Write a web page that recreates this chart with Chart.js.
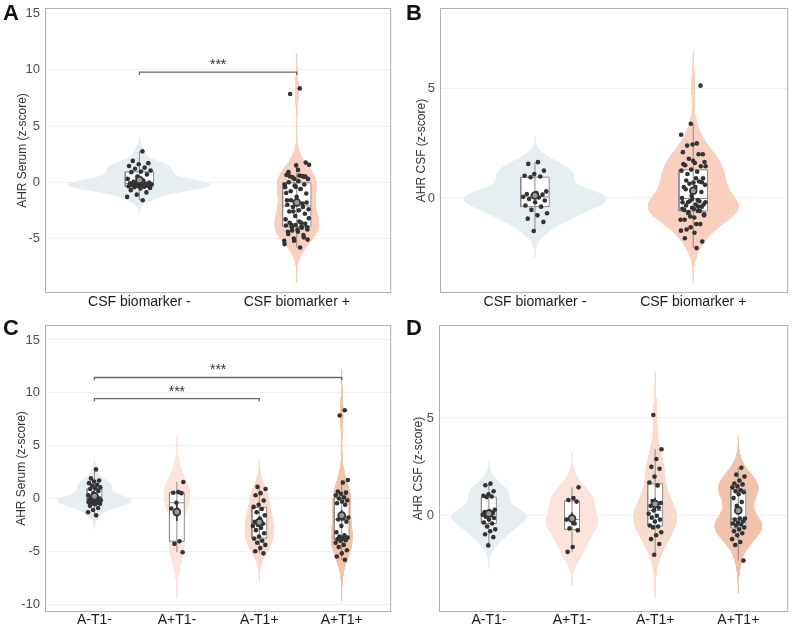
<!DOCTYPE html>
<html>
<head>
<meta charset="utf-8">
<script src="https://cdn.jsdelivr.net/npm/chart.js@4.4.1/dist/chart.umd.min.js"></script>
<style>
  html, body { margin: 0; padding: 0; background: #fff; }
  #wrap { position: relative; width: 794px; height: 627px; }
  canvas { position: absolute; }
</style>
</head>
<body>
<div id="wrap">
  <canvas id="panelA" width="397" height="313" style="left:0;top:0"></canvas>
  <canvas id="panelB" width="397" height="313" style="left:397px;top:0"></canvas>
  <canvas id="panelC" width="397" height="314" style="left:0;top:313px"></canvas>
  <canvas id="panelD" width="397" height="314" style="left:397px;top:313px"></canvas>
</div>
<script>
// categorias
var catsBiomarker = ['CSF biomarker -', 'CSF biomarker +'];
var catsAT = ['A-T1-', 'A+T1-', 'A-T1+', 'A+T1+'];

// AHR suero (z-score) por grupo AT
var serumAmT1m = [2.75, 1.9, 1.7, 1.6, 1.45, 1.3, 1.2, 1.05, 0.95, 0.9, 0.7, 0.5, 0.3, 0.15, 0.05, -0.02, -0.06, -0.1,
    -0.12, -0.15, -0.18, -0.2, -0.25, -0.3, -0.33, -0.36, -0.4, -0.45, -0.5, -0.55, -0.7, -0.9, -1.1, -1.3, -1.6];
var serumApT1m = [1.55, 0.6, 0.54, 0.5, -0.41, -0.95, -4.05, -4.3, -5.1];
var serumAmT1p = [1.1, 0.9, 0.5, 0.3, -0.2, -0.6, -0.8, -1.0, -1.3, -1.6, -1.9, -2.2, -2.4, -2.5, -2.6, -2.8, -3.0,
    -3.3, -3.6, -3.8, -4.0, -4.2, -4.4, -4.7, -5.0, -5.2];
var serumApT1p = [8.35, 7.85, 1.75, 1.5, 0.65, 0.55, 0.45, 0.3, 0.1, 0.0, -0.2, -0.3, -0.45, -0.6, -1.6, -1.8, -1.9,
    -2.0, -2.2, -2.6, -3.2, -3.5, -3.6, -3.7, -3.8, -3.85, -3.95, -4.0, -4.2, -4.4, -4.6, -4.9, -5.2, -5.5, -5.8];

// AHR LCR (z-score) por grupo AT
var csfAmT1m = [1.64, 1.56, 1.25, 1.1, 1.02, 0.98, 0.95, 0.3, 0.22, 0.18, 0.15, 0.12, 0.05, 0.02, -0.05, -0.12,
    -0.2, -0.35, -0.4, -0.55, -0.7, -0.8, -0.95, -1.1, -1.52];
var csfApT1m = [1.45, 0.9, 0.8, 0.72, -0.05, -0.2, -0.4, -0.65, -0.75, -1.6, -1.85];
var csfAmT1p = [5.15, 3.4, 2.9, 2.5, 2.4, 2.0, 1.7, 1.55, 0.75, 0.65, 0.6, 0.5, 0.4, 0.27, 0.1, 0.0, -0.1, -0.2,
    -0.3, -0.5, -0.55, -0.6, -0.85, -1.0, -1.2, -1.45, -2.0];
var csfApT1p = [2.45, 2.1, 2.0, 1.8, 1.65, 1.6, 1.5, 1.45, 1.3, 1.25, 1.2, 1.1, 0.9, 0.7, 0.5, -0.15, -0.15, -0.2,
    -0.3, -0.35, -0.4, -0.45, -0.5, -0.6, -0.7, -0.8, -0.9, -1.0, -1.2, -1.35, -1.5, -2.3];

// ticks del eje y
var yTicksSerumA = [-5, 0, 5, 10, 15];
var yTicksSerumC = [-10, -5, 0, 5, 10, 15];
var yTicksCsf = [0, 5];

// comparaciones significativas
var sigSerumA = [{ from: 1, to: 2, y: 9.8, label: '***' }];
var sigSerumC = [{ from: 1, to: 3, y: 9.45, label: '***' }, { from: 1, to: 4, y: 11.45, label: '***' }];

var coloresBiomarker = ['#E6EEF2', '#F9D0BF'];
var coloresAT = ['#E6EEF2', '#FAE4DB', '#F8DBCE', '#F2C3AA'];

var FONT = "'Liberation Sans', Arial, Helvetica, sans-serif";
var BOX_HALF = 0.09;
var VIOLIN_HALF = 0.45;
var JITTER = 0.08;

function sortAsc(v) { return v.slice().sort(function (a, b) { return a - b; }); }

// cuantil tipo 7 (como R)
function q7(s, p) {
    var h = (s.length - 1) * p, i = Math.floor(h);
    return i + 1 < s.length ? s[i] + (h - i) * (s[i + 1] - s[i]) : s[i];
}

function mean(v) { return v.reduce(function (a, b) { return a + b; }, 0) / v.length; }
function sd(v) {
    var m = mean(v);
    return Math.sqrt(v.reduce(function (a, b) { return a + (b - m) * (b - m); }, 0) / (v.length - 1));
}

function boxStats(v) {
    var s = sortAsc(v);
    var q1 = q7(s, 0.25), med = q7(s, 0.5), q3 = q7(s, 0.75), r = 1.5 * (q3 - q1);
    var lo = s.find(function (x) { return x >= q1 - r; });
    var hi = s.slice().reverse().find(function (x) { return x <= q3 + r; });
    var m = mean(v), se = sd(v) / Math.sqrt(v.length);
    return { q1: q1, med: med, q3: q3, lo: lo, hi: hi, mean: m, se: se };
}

// densidad kernel gaussiano, ancho de banda nrd0
function density(v) {
    var s = sortAsc(v), n = v.length;
    var bw = 0.9 * Math.min(sd(v), (q7(s, 0.75) - q7(s, 0.25)) / 1.34) * Math.pow(n, -0.2);
    var lo = s[0] - 3 * bw, hi = s[n - 1] + 3 * bw, out = [];
    for (var i = 0; i <= 200; i++) {
        var y = lo + (hi - lo) * i / 200, d = 0;
        v.forEach(function (x) { var z = (y - x) / bw; d += Math.exp(-0.5 * z * z); });
        out.push({ y: y, d: d / (n * bw * Math.sqrt(2 * Math.PI)) });
    }
    return out;
}

function segmento(data, color, width, order) {
    return { type: 'scatter', data: data, showLine: true, fill: false, borderColor: color, borderWidth: width,
        pointRadius: 0, order: order };
}

function crearPanel(id, p) {
    var stats = p.groups.map(boxStats);
    var dens = p.groups.map(density);
    var maxD = Math.max.apply(null, dens.map(function (d) { return Math.max.apply(null, d.map(function (e) { return e.d; })); }));
    var ds = [];

    p.groups.forEach(function (g, k) {
        var c = k + 1, s = stats[k], b = BOX_HALF;
        // violin: mitad izquierda + mitad derecha rellenada hasta la izquierda
        ds.push({ type: 'line', indexAxis: 'y', fill: false, pointRadius: 0, borderWidth: 1,
            borderColor: p.colors[k], backgroundColor: p.colors[k], order: 20,
            data: dens[k].map(function (e) { return { x: c - VIOLIN_HALF * e.d / maxD, y: e.y }; }) });
        ds.push({ type: 'line', indexAxis: 'y', fill: '-1', pointRadius: 0, borderWidth: 1,
            borderColor: p.colors[k], backgroundColor: p.colors[k], order: 20,
            data: dens[k].map(function (e) { return { x: c + VIOLIN_HALF * e.d / maxD, y: e.y }; }) });
        // caja blanca
        ds.push({ type: 'line', indexAxis: 'y', fill: { value: c - b }, pointRadius: 0, borderWidth: 1,
            borderColor: '#fff', backgroundColor: '#fff', order: 15,
            data: [{ x: c + b, y: s.q1 }, { x: c + b, y: s.q3 }] });
        ds.push(segmento([{ x: c, y: s.lo }, { x: c, y: s.hi }], '#8a8a8a', 1, 12));
        ds.push(segmento([{ x: c - b, y: s.q1 }, { x: c + b, y: s.q1 }, { x: c + b, y: s.q3 },
            { x: c - b, y: s.q3 }, { x: c - b, y: s.q1 }], '#8a8a8a', 1, 11));
        ds.push(segmento([{ x: c - b, y: s.med }, { x: c + b, y: s.med }], '#8a8a8a', 1, 11));
        // puntos con jitter determinista
        ds.push({ type: 'scatter', order: 5, pointRadius: 2.3, pointBorderWidth: 0,
            pointBackgroundColor: '#333333',
            data: g.map(function (v, i) {
                return { x: c + JITTER * ((((i + 1) * 0.618034 + 0.37 * k) % 1) * 2 - 1), y: v };
            }) });
        // media +- error estandar
        ds.push(segmento([{ x: c, y: s.mean - s.se }, { x: c, y: s.mean + s.se }], '#333', 1.6, 3));
        ds.push({ type: 'scatter', order: 2, pointRadius: 3.4, pointBorderWidth: 1.8,
            pointBorderColor: '#333', pointBackgroundColor: '#9a9a9a',
            data: [{ x: c, y: s.mean }] });
    });

    (p.sig || []).forEach(function (sg) {
        ds.push(segmento([{ x: sg.from, y: sg.y - 0.25 }, { x: sg.from, y: sg.y }, { x: sg.to, y: sg.y },
            { x: sg.to, y: sg.y - 0.25 }], '#666', 1.3, 1));
    });

    var decoracion = {
        id: 'decoracion',
        afterDatasetsDraw: function (chart) {
            var ctx = chart.ctx, a = chart.chartArea;
            ctx.save();
            ctx.strokeStyle = '#B0B0B0';
            ctx.lineWidth = 1;
            ctx.strokeRect(a.left + 0.5, a.top + 0.5, a.right - a.left - 1, a.bottom - a.top - 1);
            ctx.fillStyle = '#333';
            ctx.font = '14px ' + FONT;
            ctx.textAlign = 'center';
            ctx.textBaseline = 'alphabetic';
            (p.sig || []).forEach(function (sg) {
                var x = chart.scales.x.getPixelForValue((sg.from + sg.to) / 2);
                var y = chart.scales.y.getPixelForValue(sg.y);
                ctx.fillText(sg.label, x, y - 3);
            });
            ctx.restore();
        },
        afterDraw: function (chart) {
            var ctx = chart.ctx;
            ctx.save();
            ctx.fillStyle = '#111';
            ctx.font = 'bold 22px ' + FONT;
            ctx.textAlign = 'left';
            ctx.textBaseline = 'middle';
            ctx.fillText(p.letter, p.letterPos[0], p.letterPos[1]);
            ctx.restore();
        }
    };

    return new Chart(document.getElementById(id), {
        type: 'scatter',
        data: { datasets: ds },
        options: {
            responsive: false,
            animation: false,
            events: [],
            layout: { padding: p.pad },
            plugins: { legend: { display: false }, tooltip: { enabled: false } },
            scales: {
                x: {
                    type: 'linear', min: 0.4, max: p.cats.length + 0.6,
                    afterBuildTicks: function (sc) { sc.ticks = p.cats.map(function (_, i) { return { value: i + 1 }; }); },
                    afterFit: function (sc) { sc.height = p.xh; sc.paddingLeft = 0; sc.paddingRight = 0; },
                    grid: { display: false, drawTicks: false },
                    border: { display: false },
                    ticks: { autoSkip: false, maxRotation: 0, padding: p.xp, color: '#1a1a1a',
                        font: { family: FONT, size: 14 },
                        callback: function (v) { return p.cats[Math.round(v) - 1]; } }
                },
                y: {
                    type: 'linear', min: p.yMin, max: p.yMax,
                    afterBuildTicks: function (sc) { sc.ticks = p.yTicks.map(function (v) { return { value: v }; }); },
                    afterFit: function (sc) { sc.width = p.yw; sc.paddingTop = 0; sc.paddingBottom = 0; },
                    grid: { color: '#F0F0F0', drawTicks: false },
                    border: { display: false },
                    ticks: { padding: 5, color: '#4D4D4D', font: { family: FONT, size: 13 } },
                    title: { display: true, text: p.yTitle, color: '#333', font: { family: FONT, size: 12 },
                        padding: { top: p.tp, bottom: 0 } }
                }
            }
        },
        plugins: [decoracion]
    });
}

crearPanel('panelA', {
    cats: catsBiomarker, colors: coloresBiomarker,
    groups: [serumAmT1m, serumApT1m.concat(serumAmT1p, serumApT1p)],
    yMin: -9.85, yMax: 15.5, yTicks: yTicksSerumA, yTitle: 'AHR Serum (z-score)',
    sig: sigSerumA, letter: 'A', letterPos: [3, 14],
    pad: { top: 8, right: 4, left: 0, bottom: 0 }, yw: 45, xh: 20, xp: 1, tp: 15
});
crearPanel('panelB', {
    cats: catsBiomarker, colors: coloresBiomarker,
    groups: [csfAmT1m, csfApT1m.concat(csfAmT1p, csfApT1p)],
    yMin: -4.36, yMax: 8.71, yTicks: yTicksCsf, yTitle: 'AHR CSF (z-score)',
    letter: 'B', letterPos: [9, 14],
    pad: { top: 8, right: 2, left: 0, bottom: 0 }, yw: 43, xh: 20, xp: 1, tp: 17
});
crearPanel('panelC', {
    cats: catsAT, colors: coloresAT,
    groups: [serumAmT1m, serumApT1m, serumAmT1p, serumApT1p],
    yMin: -10.75, yMax: 16.42, yTicks: yTicksSerumC, yTitle: 'AHR Serum (z-score)',
    sig: sigSerumC, letter: 'C', letterPos: [3, 16],
    pad: { top: 12, right: 4, left: 0, bottom: 0 }, yw: 45, xh: 15, xp: 0, tp: 14
});
crearPanel('panelD', {
    cats: catsAT, colors: coloresAT,
    groups: [csfAmT1m, csfApT1m, csfAmT1p, csfApT1p],
    yMin: -4.93, yMax: 9.76, yTicks: yTicksCsf, yTitle: 'AHR CSF (z-score)',
    letter: 'D', letterPos: [9, 16],
    pad: { top: 12, right: 2, left: 0, bottom: 0 }, yw: 42, xh: 15, xp: 0, tp: 14
});
</script>
</body>
</html>
